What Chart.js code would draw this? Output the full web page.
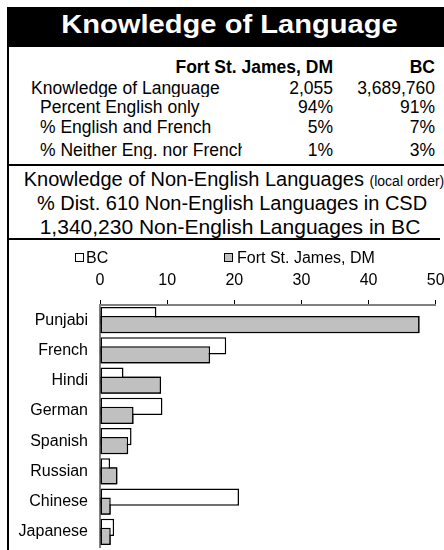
<!DOCTYPE html>
<html>
<head>
<meta charset="utf-8">
<script src="https://cdn.jsdelivr.net/npm/chart.js@4"></script>
<style>
  body { margin: 0; width: 444px; height: 550px; overflow: hidden; background: #fff; position: relative;
         font-family: "Liberation Sans", Arial, sans-serif; color: #000; }
  .t { position: absolute; white-space: nowrap; }
  .line { position: absolute; background: #000; }
  #title { left: 7px; top: 7px; width: 437px; height: 40px; background: #000; position: absolute; }
  #title span { position: absolute; left: 0; width: 445px; top: 4.3px; text-align: center; color: #fff;
                font-weight: bold; font-size: 26px; line-height: 26px; transform: scaleX(1.12); }
  .tbl { font-size: 17.5px; line-height: 17.5px; }
  .box { position: absolute; width: 7px; height: 7px; border: 1px solid #000; }
  #chart-wrap { position: absolute; left: 10px; top: 250px; }
  canvas { display: block; }
</style>
</head>
<body>
<div id="title"><span>Knowledge of Language</span></div>
<div class="line" style="left:7px;top:7px;width:2px;height:543px"></div>
<div class="line" style="left:7px;top:164px;width:437px;height:2px"></div>
<div class="line" style="left:7px;top:238px;width:433px;height:2px"></div>
<div id="table"></div>

<div class="t" style="left:0;width:468px;text-align:center;top:168.6px;font-size:20px;line-height:20px">Knowledge of Non-English Languages <span style="font-size:14px">(local order)</span></div>
<div class="t" id="csd-line" style="left:0;width:464px;text-align:center;top:192.6px;font-size:20px;line-height:20px"></div>
<div class="t" id="bc-line" style="left:0;width:460px;text-align:center;top:215.7px;font-size:21px;line-height:21px"></div>

<div id="chart-wrap"><canvas id="lang-chart" width="434" height="300"></canvas></div>

<div class="box" style="left:75px;top:253px;background:#fff"></div>
<div class="t" style="left:86px;top:249.5px;font-size:16px;line-height:16px">BC</div>
<div class="box" style="left:224px;top:253px;background:#c0c0c0"></div>
<div class="t" style="left:237px;top:249.5px;font-size:16px;line-height:16px">Fort St. James, DM</div>

<script>
// summary table
const areaNames = ["Fort St. James, DM", "BC"];
const rowLabels = ["Knowledge of Language", "Percent English only", "% English and French", "% Neither Eng. nor French"];
const fsjValues = ["2,055", "94%", "5%", "1%"];
const bcValues = ["3,689,760", "91%", "7%", "3%"];
const csdNonEnglish = "610";
const bcNonEnglish = "1,340,230";

// chart data (% of non-English languages)
const languages = ["Punjabi", "French", "Hindi", "German", "Spanish", "Russian", "Chinese", "Japanese"];
const bcPct = [8.4, 18.8, 3.5, 9.3, 4.7, 1.5, 20.7, 2.1];
const fsjPct = [47.6, 16.4, 9.1, 5.0, 4.2, 2.6, 1.6, 1.6];

const rowTops = [79.5, 99.2, 119.2, 141.7];
const rowLeft = [31, 40, 40, 40];
let html = "";
html += '<div class="t tbl" style="right:111px;top:58.5px;font-weight:bold">' + areaNames[0] + "</div>";
html += '<div class="t tbl" style="right:9px;top:58.5px;font-weight:bold">' + areaNames[1] + "</div>";
rowLabels.forEach((lab, i) => {
  // the label column is cut at x=242
  html += '<div class="t tbl" style="left:' + rowLeft[i] + "px;top:" + rowTops[i] + 'px;width:' + (242 - rowLeft[i]) + 'px;overflow:hidden">' + lab + "</div>";
  html += '<div class="t tbl" style="right:111px;top:' + rowTops[i] + 'px">' + fsjValues[i] + "</div>";
  html += '<div class="t tbl" style="right:9px;top:' + rowTops[i] + 'px">' + bcValues[i] + "</div>";
});
document.getElementById("table").innerHTML = html;
document.getElementById("csd-line").textContent = "% Dist. " + csdNonEnglish + " Non-English Languages in CSD";
document.getElementById("bc-line").textContent = bcNonEnglish + " Non-English Languages in BC";

Chart.defaults.font.family = "'Liberation Sans', Arial, sans-serif";
Chart.defaults.color = "#000";

new Chart(document.getElementById("lang-chart"), {
  type: "bar",
  data: {
    labels: languages,
    datasets: [
      {
        label: "BC",
        data: bcPct,
        backgroundColor: "#ffffff",
        borderColor: "#000",
        borderWidth: 1.5,
        borderSkipped: false,
        categoryPercentage: 0.595,
        barPercentage: 1.89,
      },
      {
        label: "Fort St. James, DM",
        data: fsjPct,
        backgroundColor: "#c0c0c0",
        borderColor: "#000",
        borderWidth: 1.5,
        borderSkipped: false,
        categoryPercentage: 0.595,
        barPercentage: 1.89,
      },
    ],
  },
  options: {
    indexAxis: "y",
    responsive: false,
    animation: false,
    layout: { padding: { top: 11.8, bottom: 3, left: 0, right: 0 } },
    plugins: { legend: { display: false }, tooltip: { enabled: false } },
    scales: {
      x: {
        position: "top",
        min: 0,
        max: 50,
        ticks: { stepSize: 10, padding: 9.5, font: { size: 16 } },
        grid: { drawOnChartArea: false, tickLength: 5, color: "#000" },
        border: { color: "#808080", width: 2 },
        afterFit(scale) { scale.paddingRight = 8.3; },
      },
      y: {
        ticks: { padding: 12, font: { size: 16 } },
        grid: { display: false, drawTicks: false },
        border: { color: "#808080", width: 2 },
        afterFit(scale) {
          scale.width = 90;
          scale.paddingTop = 0;
          scale.paddingBottom = 0;
        },
      },
    },
  },
  plugins: [{
    // local bars sit over the BC bars
    id: "localOnTop",
    afterDatasetsDraw(chart) { chart.getDatasetMeta(1).controller.draw(); },
  }],
});
</script>
</body>
</html>
